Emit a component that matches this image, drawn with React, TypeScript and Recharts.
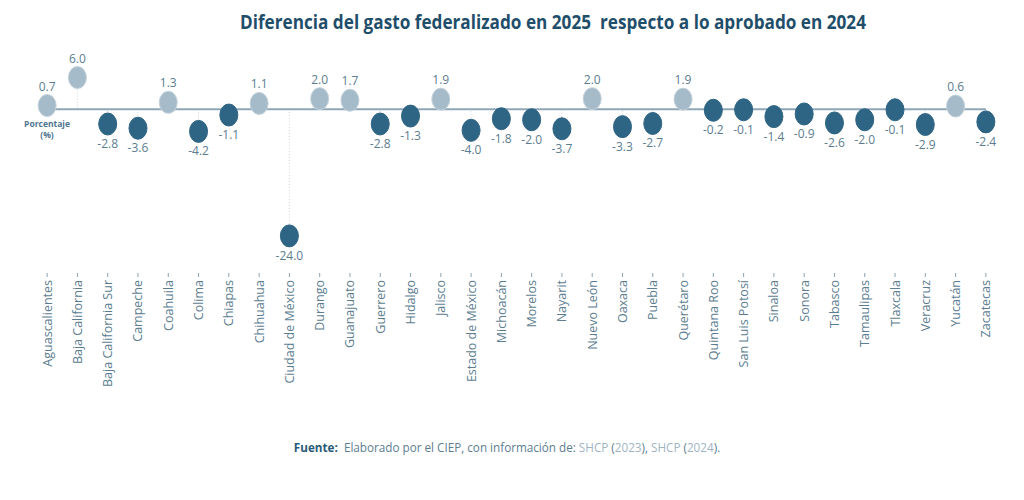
import React from 'react';
import { ComposedChart, Line, Bar, XAxis, YAxis, ReferenceLine, LabelList } from 'recharts';

const states = ['Aguascalientes','Baja California','Baja California Sur','Campeche','Coahuila','Colima','Chiapas','Chihuahua','Ciudad de México','Durango','Guanajuato','Guerrero','Hidalgo','Jalisco','Estado de México','Michoacán','Morelos','Nayarit','Nuevo León','Oaxaca','Puebla','Querétaro','Quintana Roo','San Luis Potosí','Sinaloa','Sonora','Tabasco','Tamaulipas','Tlaxcala','Veracruz','Yucatán','Zacatecas'];
const values = [0.7,6.0,-2.8,-3.6,1.3,-4.2,-1.1,1.1,-24.0,2.0,1.7,-2.8,-1.3,1.9,-4.0,-1.8,-2.0,-3.7,2.0,-3.3,-2.7,1.9,-0.2,-0.1,-1.4,-0.9,-2.6,-2.0,-0.1,-2.9,0.6,-2.4];

const data = states.map((s, i) => ({ name: s, v: values[i] }));

const DARK = '#2f6584';
const LIGHT = '#a6bbc9';
const TXT = '#5c7d90';
const FONT = '"Open Sans", sans-serif';

const Dot = (props: any) => {
  const { cx, cy, payload } = props;
  if (cx == null || cy == null) return null;
  const pos = payload.v >= 0;
  return (
    <ellipse cx={cx} cy={cy} rx={9} ry={11} fill={pos ? LIGHT : DARK} stroke={pos ? '#c3d1db' : DARK} strokeWidth={1} />
  );
};

const ValLabel = (props: any) => {
  const { x, y, value } = props;
  const pos = value >= 0;
  return (
    <text x={x} y={pos ? y - 15 : y + 24} textAnchor="middle" fontSize={12} fill={TXT} fontFamily={FONT}>
      {value.toFixed(1)}
    </text>
  );
};

const DropLine = (props: any) => {
  const { x, y, width, height } = props;
  if (x == null) return null;
  const cx = x + width / 2;
  return <line x1={cx} x2={cx} y1={y} y2={y + height} stroke="#c9d3da" strokeWidth={1} strokeDasharray="1 2" />;
};

const Tick = (props: any) => {
  const { x, y, payload } = props;
  return (
    <g transform={`translate(${x},${y})`}>
      <line x1={0} x2={0} y1={8} y2={12} stroke="#8aa3b3" strokeWidth={1} />
      <text x={0} y={0} transform="translate(4.5,15) rotate(-90)" textAnchor="end" fontSize={12.5} fill={TXT} fontFamily={FONT}>
        {payload.value}
      </text>
    </g>
  );
};

export default function App() {
  return (
    <div style={{ position: 'absolute', left: 0, top: 0, width: 1024, height: 500, background: '#fff' }}>
      <svg width={1024} height={500} style={{ position: 'absolute', left: 0, top: 0, whiteSpace: 'pre' }}>
        <text x={553} y={29} textAnchor="middle" fontSize={19} fontWeight={700} fill="#1f4e6b" fontFamily={FONT} textLength={626} lengthAdjust="spacingAndGlyphs" style={{ whiteSpace: 'pre' }}>
          {'Diferencia del gasto federalizado en 2025  respecto a lo aprobado en 2024'}
        </text>
        <text x={47} y={127} textAnchor="middle" fontSize={8.5} fontWeight={700} fill="#4e7590" fontFamily={FONT}>Porcentaje</text>
        <text x={47} y={138} textAnchor="middle" fontSize={8.5} fontWeight={700} fill="#4e7590" fontFamily={FONT}>(%)</text>
        <text x={507} y={452} textAnchor="middle" fontSize={11.7} fontFamily={FONT} fill="#5c7d90" style={{ whiteSpace: 'pre' }}>
          <tspan fontWeight={700} fill="#2b5a78">Fuente:</tspan>
          <tspan>{'  Elaborado por el CIEP, con información de: '}</tspan>
          <tspan fill="#9fb4c3">SHCP</tspan>
          <tspan>{' ('}</tspan>
          <tspan fill="#9fb4c3">2023</tspan>
          <tspan>{'), '}</tspan>
          <tspan fill="#9fb4c3">SHCP</tspan>
          <tspan>{' ('}</tspan>
          <tspan fill="#9fb4c3">2024</tspan>
          <tspan>{').'}</tspan>
        </text>
      </svg>
      <div style={{ position: 'absolute', left: 0, top: 0 }}>
        <ComposedChart width={1024} height={500} data={data} margin={{ top: 67, right: 23, left: 32, bottom: 242 }}>
          <XAxis dataKey="name" interval={0} axisLine={false} tickLine={false} tick={<Tick />} height={1} />
          <YAxis hide domain={[-28, 8]} type="number" />
          <ReferenceLine
            segment={[{ x: 'Aguascalientes', y: 0 }, { x: 'Zacatecas', y: 0 }]}
            stroke="#8ea7b7"
            strokeWidth={2}
          />
          <Bar dataKey="v" shape={<DropLine />} isAnimationActive={false} />
          <Line dataKey="v" stroke="none" dot={<Dot />} activeDot={false} isAnimationActive={false}>
            <LabelList dataKey="v" content={<ValLabel />} />
          </Line>
        </ComposedChart>
      </div>
    </div>
  );
}
